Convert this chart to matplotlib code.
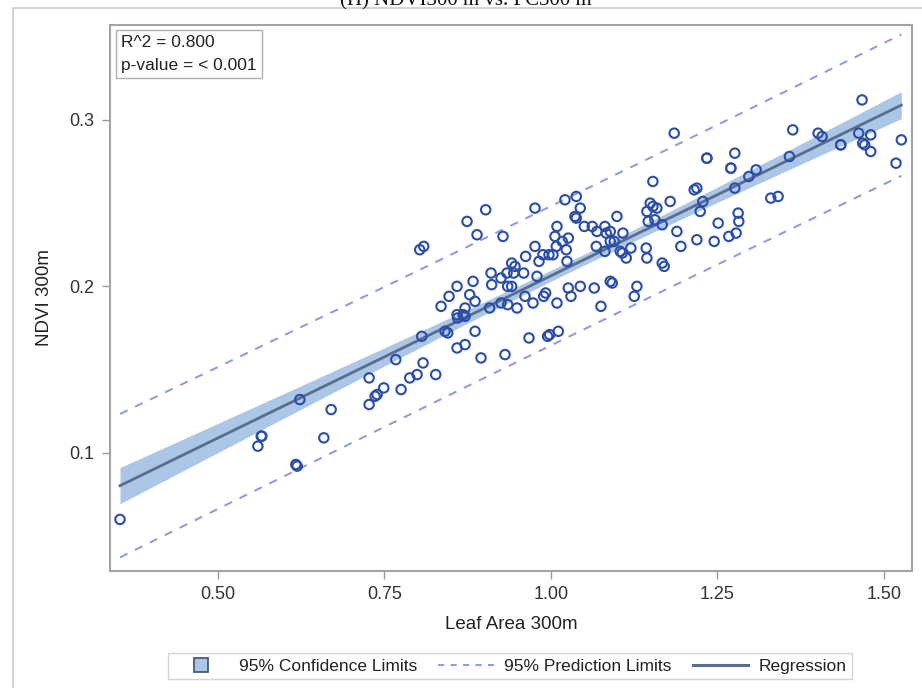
import numpy as np
import matplotlib
matplotlib.use("Agg")
import matplotlib.pyplot as plt
from matplotlib.lines import Line2D
from matplotlib.patches import Rectangle

plt.rcParams['font.family'] = ['Liberation Sans', 'DejaVu Sans']

# Leaf Area 300m (x) and NDVI 300m (y)
leaf_area = [
    0.353, 0.560, 0.565, 0.566, 0.617, 0.619, 0.623, 0.659, 0.670, 0.727,
    0.727, 0.736, 0.739, 0.749, 0.767, 0.775, 0.788, 0.799, 0.806, 0.803,
    0.809, 0.808, 0.827, 0.835, 0.841, 0.845, 0.847, 0.859, 0.859, 0.868,
    0.860, 0.871, 0.859, 0.871, 0.871, 0.874, 0.878, 0.883, 0.886, 0.886,
    0.889, 0.895, 0.902, 0.908, 0.910, 0.911, 0.925, 0.925, 0.928, 0.931,
    0.934, 0.935, 0.941, 0.935, 0.941, 0.946, 0.944, 0.949, 0.959, 0.961,
    0.962, 0.967, 0.973, 0.976, 0.976, 0.979, 0.982, 0.988, 0.989, 0.992,
    0.995, 0.998, 0.997, 1.003, 1.006, 1.009, 1.009, 1.011, 1.017, 1.026,
    1.008, 1.023, 1.024, 1.021, 1.038, 1.044, 1.036, 1.038, 1.026, 1.030,
    1.044, 1.050, 1.062, 1.069, 1.068, 1.065, 1.075, 1.081, 1.083, 1.089,
    1.081, 1.089, 1.095, 1.089, 1.092, 1.099, 1.104, 1.107, 1.108, 1.113,
    1.120, 1.125, 1.129, 1.143, 1.144, 1.146, 1.156, 1.167, 1.149, 1.144,
    1.153, 1.159, 1.153, 1.167, 1.170, 1.179, 1.185, 1.189, 1.195, 1.215,
    1.219, 1.219, 1.224, 1.228, 1.234, 1.234, 1.245, 1.251, 1.267, 1.270,
    1.270, 1.276, 1.276, 1.278, 1.281, 1.282, 1.297, 1.308, 1.330, 1.341,
    1.358, 1.363, 1.401, 1.407, 1.435, 1.435, 1.462, 1.467, 1.468, 1.471,
    1.480, 1.480, 1.518, 1.526,
]
ndvi = [
    0.060, 0.104, 0.110, 0.110, 0.093, 0.092, 0.132, 0.109, 0.126, 0.145,
    0.129, 0.134, 0.135, 0.139, 0.156, 0.138, 0.145, 0.147, 0.170, 0.222,
    0.224, 0.154, 0.147, 0.188, 0.173, 0.172, 0.194, 0.200, 0.183, 0.183,
    0.181, 0.182, 0.163, 0.165, 0.187, 0.239, 0.195, 0.203, 0.191, 0.173,
    0.231, 0.157, 0.246, 0.187, 0.208, 0.201, 0.205, 0.190, 0.230, 0.159,
    0.208, 0.200, 0.200, 0.189, 0.214, 0.212, 0.208, 0.187, 0.208, 0.194,
    0.218, 0.169, 0.190, 0.224, 0.247, 0.206, 0.215, 0.219, 0.194, 0.196,
    0.170, 0.171, 0.219, 0.219, 0.230, 0.236, 0.190, 0.173, 0.227, 0.229,
    0.224, 0.222, 0.215, 0.252, 0.254, 0.247, 0.242, 0.241, 0.199, 0.194,
    0.200, 0.236, 0.236, 0.233, 0.224, 0.199, 0.188, 0.236, 0.232, 0.233,
    0.221, 0.227, 0.227, 0.203, 0.202, 0.242, 0.221, 0.220, 0.232, 0.217,
    0.223, 0.194, 0.200, 0.223, 0.217, 0.239, 0.240, 0.237, 0.250, 0.245,
    0.248, 0.247, 0.263, 0.214, 0.212, 0.251, 0.292, 0.233, 0.224, 0.258,
    0.259, 0.228, 0.245, 0.251, 0.277, 0.277, 0.227, 0.238, 0.230, 0.271,
    0.271, 0.280, 0.259, 0.232, 0.244, 0.239, 0.266, 0.270, 0.253, 0.254,
    0.278, 0.294, 0.292, 0.290, 0.285, 0.285, 0.292, 0.312, 0.286, 0.285,
    0.291, 0.281, 0.274, 0.288,
]

stats_text = "R^2 = 0.800\np-value = < 0.001"
title_text = "(H) NDVI300 m vs. FC300 m"
t_crit = 1.975

x = np.array(leaf_area)
y = np.array(ndvi)

# least squares fit with confidence and prediction limits
n = len(x)
slope, intercept = np.polyfit(x, y, 1)
resid = y - (intercept + slope * x)
s = np.sqrt(np.sum(resid ** 2) / (n - 2))
sxx = np.sum((x - x.mean()) ** 2)
xs = np.linspace(x.min(), x.max(), 200)
fit = intercept + slope * xs
se_mean = s * np.sqrt(1.0 / n + (xs - x.mean()) ** 2 / sxx)
se_pred = s * np.sqrt(1.0 + 1.0 / n + (xs - x.mean()) ** 2 / sxx)

band_col = '#abc6e6'
line_col = '#5b6d8c'
pred_col = '#959cde'
mark_col = '#2a4ea8'

fig = plt.figure(figsize=(9.22, 6.88), dpi=100)
ax = fig.add_axes([110 / 922, 1 - 571 / 688, 802 / 922, 546 / 688])

ax.fill_between(xs, fit - t_crit * se_mean, fit + t_crit * se_mean,
                color=band_col, lw=0, zorder=1)
ax.plot(xs, fit - t_crit * se_pred, color=pred_col, lw=1.5, dashes=(4, 4), zorder=2)
ax.plot(xs, fit + t_crit * se_pred, color=pred_col, lw=1.5, dashes=(4, 4), zorder=2)
ax.plot(xs, fit, color=line_col, lw=2, zorder=3)
ax.scatter(x, y, s=46, facecolors='none', edgecolors=mark_col, linewidths=1.5, zorder=4)

ax.set_xlim(0.338, 1.542)
ax.set_ylim(0.029, 0.357)
ax.set_xticks([0.50, 0.75, 1.00, 1.25, 1.50])
ax.set_xticklabels(['0.50', '0.75', '1.00', '1.25', '1.50'])
ax.set_yticks([0.1, 0.2, 0.3])
ax.set_yticklabels(['0.1', '0.2', '0.3'])
ax.tick_params(direction='out', length=6, width=1, color='#999999',
               labelsize=13, labelcolor='#333333', pad=5)
for sp in ax.spines.values():
    sp.set_color('#a0a4a8')
    sp.set_linewidth(1.5)

ax.set_xlabel('Leaf Area 300m', fontsize=13.5, color='#222222')
ax.set_ylabel('NDVI 300m', fontsize=13.5, color='#222222')
ax.xaxis.set_label_coords(0.5, -0.082)
ax.yaxis.set_label_coords(-0.071, 0.5)

ax.text(0.014, 0.982, stats_text, transform=ax.transAxes, fontsize=12.5,
        va='top', ha='left', color='#222222', linespacing=1.65,
        bbox=dict(boxstyle='square,pad=0.3', fc='white', ec='#b0b0b0', lw=1))

# outer graph border and clipped title
fig.patches.append(Rectangle((13 / 922, -0.05), 1.0, 1.05 - 8 / 688,
                             transform=fig.transFigure, fill=False,
                             edgecolor='#cccccc', lw=1.2))
fig.text(0.505, 1 - 5 / 688, title_text, ha='center', va='baseline',
         fontsize=15, family=['Liberation Serif', 'DejaVu Serif'], color='#111111')

handles = [
    Line2D([], [], marker='s', linestyle='none', markersize=10,
           markerfacecolor=band_col, markeredgecolor='#3e4e6e', markeredgewidth=1.2),
    Line2D([], [], color=pred_col, lw=1.5, dashes=(3, 3)),
    Line2D([], [], color=line_col, lw=2.2),
]
labels = ['95% Confidence Limits', '95% Prediction Limits', 'Regression']
fig.legend(handles, labels, loc='center', bbox_to_anchor=(510 / 922, 1 - 666 / 688),
           ncol=3, fontsize=12.5, frameon=True, fancybox=False, edgecolor='#c8c8c8',
           handlelength=3.2, columnspacing=1.2, handletextpad=0.6,
           borderpad=0.3, labelcolor='#222222')

fig.savefig('out.png', dpi=100)
